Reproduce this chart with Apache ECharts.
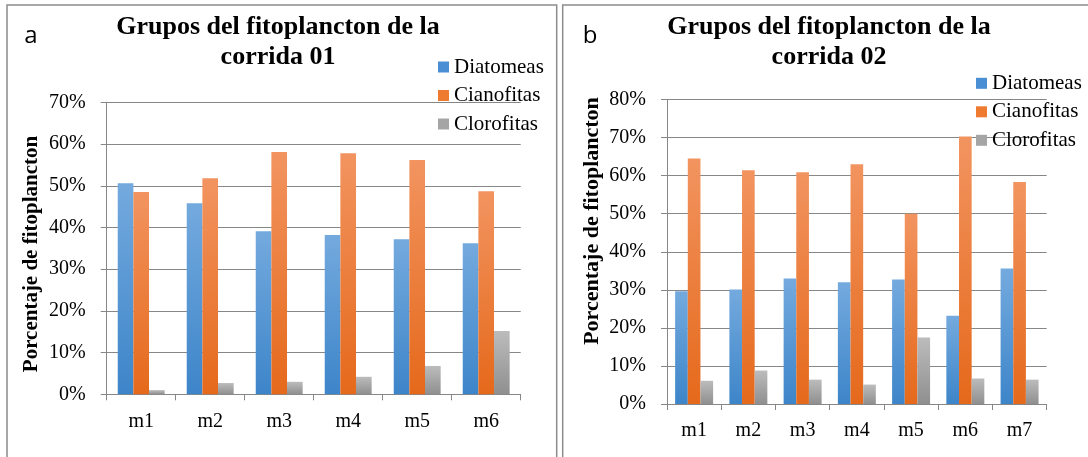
<!DOCTYPE html>
<html>
<head>
<meta charset="utf-8">
<script src="https://cdn.jsdelivr.net/npm/echarts@6/dist/echarts.min.js"></script>
<style>
html,body{margin:0;padding:0;background:#fff;}
#chart{width:1088px;height:457px;}
</style>
</head>
<body>
<div id="chart"></div>
<script>
// ---- data ----
const seriesNames = ['Diatomeas', 'Cianofitas', 'Clorofitas'];
const categoriesA = ['m1', 'm2', 'm3', 'm4', 'm5', 'm6'];
const diatomeasA  = [50.6, 45.8, 39.1, 38.2, 37.2, 36.2];
const cianofitasA = [48.5, 51.8, 58.1, 57.8, 56.2, 48.7];
const clorofitasA = [1.0, 2.7, 3.0, 4.2, 6.8, 15.2];
const categoriesB = ['m1', 'm2', 'm3', 'm4', 'm5', 'm6', 'm7'];
const diatomeasB  = [29.6, 30.1, 33.0, 32.0, 32.7, 23.2, 35.6];
const cianofitasB = [64.5, 61.4, 60.9, 63.0, 50.0, 70.3, 58.3];
const clorofitasB = [6.1, 8.8, 6.4, 5.1, 17.5, 6.7, 6.4];
const titleA = 'Grupos del fitoplancton de la\ncorrida 01';
const titleB = 'Grupos del fitoplancton de la\ncorrida 02';
const yTitle = 'Porcentaje de fitoplancton';
const yMaxA = 70, yMaxB = 80, yStep = 10;

// ---- styles ----
const SERIF = '"Liberation Serif", "Times New Roman", serif';
const gridColor = '#878787';
const grad = (top, bottom) => new echarts.graphic.LinearGradient(0, 0, 0, 1, [
  {offset: 0, color: top}, {offset: 1, color: bottom}
]);
const fills = [grad('#74aade', '#3d85c9'), grad('#f29460', '#e5691b'), grad('#bcbcbc', '#8f8f8f')];
const solid = ['#4a8fd4', '#ee7b30', '#a5a5a5'];

function xAxis(idx, cats) {
  return {
    type: 'category', gridIndex: idx, data: cats,
    axisLine: {show: true, lineStyle: {color: gridColor, width: 1}},
    axisTick: {show: true, length: 6, lineStyle: {color: gridColor}},
    axisLabel: {color: '#000', fontFamily: SERIF, fontSize: 20, margin: 17}
  };
}
function yAxis(idx, max) {
  return {
    type: 'value', gridIndex: idx, min: 0, max: max, interval: yStep,
    axisLine: {show: true, lineStyle: {color: gridColor, width: 1}},
    axisTick: {show: true, length: 6, lineStyle: {color: gridColor}},
    splitLine: {show: true, lineStyle: {color: gridColor, width: 1}},
    axisLabel: {color: '#000', fontFamily: SERIF, fontSize: 20, margin: 21, formatter: '{value}%'}
  };
}
function bars(idx, lists, gap) {
  return lists.map((d, i) => ({
    name: seriesNames[i], type: 'bar', xAxisIndex: idx, yAxisIndex: idx, data: d,
    barGap: '0%', barCategoryGap: gap,
    itemStyle: {color: fills[i]}
  }));
}
function legend(left, top) {
  return {
    orient: 'vertical', left: left, top: top, padding: 0,
    itemWidth: 11, itemHeight: 11, itemGap: 7.5,
    icon: 'rect',
    textStyle: {fontFamily: SERIF, fontSize: 21, lineHeight: 21, color: '#000'},
    data: seriesNames.map((n, i) => ({name: n, itemStyle: {color: solid[i]}})),
    selectedMode: false
  };
}

const chart = echarts.init(document.getElementById('chart'), null, {renderer: 'canvas'});
chart.setOption({
  backgroundColor: '#fff',
  animation: false,
  grid: [
    {left: 106.7, top: 102.4, width: 414, height: 291.9},
    {left: 667, top: 99.5, width: 379.7, height: 304.5}
  ],
  xAxis: [xAxis(0, categoriesA), xAxis(1, categoriesB)],
  yAxis: [yAxis(0, yMaxA), yAxis(1, yMaxB)],
  legend: [legend(438, 56.5), legend(976, 72.8)],
  series: [].concat(
    bars(0, [diatomeasA, cianofitasA, clorofitasA], '32%'),
    bars(1, [diatomeasB, cianofitasB, clorofitasB], '30%')
  ),
  graphic: [
    {type: 'rect', shape: {x: 7, y: 5, width: 549.7, height: 470}, style: {fill: 'none', stroke: '#8c8c8c', lineWidth: 1.5}, silent: true},
    {type: 'rect', shape: {x: 562.7, y: 5, width: 600, height: 470}, style: {fill: 'none', stroke: '#8c8c8c', lineWidth: 1.5}, silent: true},
    {type: 'text', x: 278, y: 12, style: {text: titleA, align: 'center', verticalAlign: 'top', font: 'bold 26px ' + SERIF, lineHeight: 30, fill: '#000'}},
    {type: 'text', x: 829, y: 12, style: {text: titleB, align: 'center', verticalAlign: 'top', font: 'bold 26px ' + SERIF, lineHeight: 30, fill: '#000'}},
    {type: 'text', x: 31, y: 36, style: {text: 'a', align: 'center', verticalAlign: 'middle', font: '24px "Open Sans", sans-serif', fill: '#000'}},
    {type: 'text', x: 590, y: 36, style: {text: 'b', align: 'center', verticalAlign: 'middle', font: '24px "Open Sans", sans-serif', fill: '#000'}},
    {type: 'text', x: 32, y: 254, rotation: Math.PI / 2, style: {text: yTitle, align: 'center', verticalAlign: 'middle', font: 'bold 21px ' + SERIF, fill: '#000'}},
    {type: 'text', x: 592, y: 221, rotation: Math.PI / 2, style: {text: yTitle, align: 'center', verticalAlign: 'middle', font: 'bold 22px ' + SERIF, fill: '#000'}}
  ]
});
</script>
</body>
</html>
